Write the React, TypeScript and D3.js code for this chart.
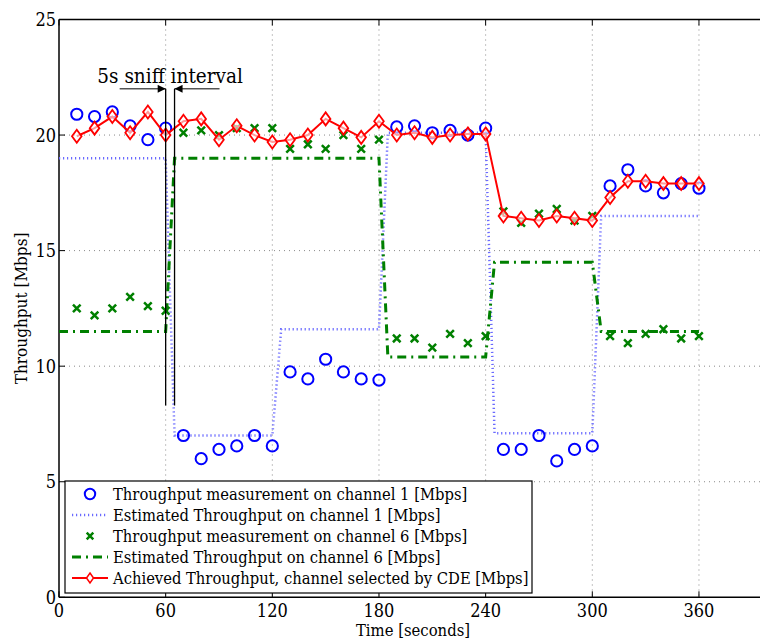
import React from "react";
import * as d3 from "d3";

const times = [10,20,30,40,50,60,70,80,90,100,110,120,130,140,150,160,170,180,190,200,210,220,230,240,250,260,270,280,290,300,310,320,330,340,350,360];
const ch1Meas = [20.9,20.8,21.0,20.4,19.8,20.3,7.0,6.0,6.4,6.55,7.0,6.55,9.75,9.45,10.3,9.75,9.45,9.4,20.35,20.4,20.1,20.2,20.0,20.3,6.4,6.4,7.0,5.9,6.4,6.55,17.8,18.5,17.8,17.5,17.9,17.7];
const ch6Meas = [12.5,12.2,12.5,13.0,12.6,12.4,20.1,20.2,20.0,20.3,20.3,20.3,19.4,19.6,19.4,20.0,19.4,19.8,11.2,11.2,10.8,11.4,11.0,11.3,16.7,16.2,16.6,16.8,16.3,16.5,11.3,11.0,11.4,11.6,11.2,11.3];
const achieved = [19.95,20.3,20.8,20.1,21.0,20.0,20.6,20.7,19.8,20.4,20.0,19.7,19.8,20.0,20.7,20.3,19.9,20.6,20.0,20.1,19.9,20.0,20.05,20.05,16.5,16.4,16.3,16.5,16.4,16.3,17.3,18.0,18.0,17.9,17.9,17.9];

const est1Times = [0,60,65,120,125,180,185,240,245,300,305,360];
const est1Values = [19,19,7,7,11.6,11.6,20.1,20.1,7.1,7.1,16.5,16.5];
const est6Times = [0,60,65,180,185,240,245,300,305,360];
const est6Values = [11.5,11.5,19,19,10.4,10.4,14.5,14.5,11.5,11.5];

const xTicks = [0,60,120,180,240,300,360];
const yTicks = [0,5,10,15,20,25];
const legendLabels = [
  "Throughput measurement on channel 1 [Mbps]",
  "Estimated Throughput on channel 1 [Mbps]",
  "Throughput measurement on channel 6 [Mbps]",
  "Estimated Throughput on channel 6 [Mbps]",
  "Achieved Throughput, channel selected by CDE [Mbps]",
];
const sniffStart = 60;
const sniffEnd = 65;

const FONT = "'DejaVu Serif Condensed', 'DejaVu Serif', serif";
const BLUE = "#0000ff";
const BLUE_EST = "#6a6aff";
const GREEN = "#008000";
const RED = "#ff0000";

export default function App() {
  const W = 760, H = 641;
  const left = 59, top = 19.5, bottom = 597.3;
  const x = d3.scaleLinear().domain([0, 400]).range([left, left + 400 * (533.3 / 300)]);
  const y = d3.scaleLinear().domain([0, 25]).range([bottom, top]);
  const right = x(400);

  const line = d3.line<[number, number]>().x(d => x(d[0])).y(d => y(d[1]));
  const est1 = line(est1Times.map((t, i) => [t, est1Values[i]]));
  const est6 = line(est6Times.map((t, i) => [t, est6Values[i]]));
  const ach = line(times.map((t, i) => [t, achieved[i]]));

  const diamond = (cx: number, cy: number) => `M${cx},${cy - 6.5}L${cx + 4.8},${cy}L${cx},${cy + 6.5}L${cx - 4.8},${cy}Z`;
  const cross = (cx: number, cy: number, s = 3.8) => `M${cx - s},${cy - s}L${cx + s},${cy + s}M${cx - s},${cy + s}L${cx + s},${cy - s}`;

  const lgX = 65, lgY = 481, lgW = 467, lgH = 112;
  const rowY = (i: number) => 494 + i * 21;

  const arrowY = y(22);
  const textY = y(22.25);

  return (
    <svg width={W} height={H} style={{ position: "absolute", left: 0, top: 0, background: "#fff" }} fontFamily={FONT}>
      <rect x={0} y={0} width={W} height={H} fill="#fff" />
      <defs>
        <clipPath id="plot">
          <rect x={left} y={top} width={right - left} height={bottom - top} />
        </clipPath>
        <marker id="arr" viewBox="0 0 10 10" refX="10" refY="5" markerWidth="11" markerHeight="8" markerUnits="userSpaceOnUse" orient="auto">
          <path d="M0,0L10,5L0,10Z" fill="#000" />
        </marker>
      </defs>
      {/* grid */}
      {xTicks.filter(t => t > 0).map(t => (
        <line key={"gx" + t} x1={x(t)} x2={x(t)} y1={top} y2={bottom} stroke="#888" strokeWidth={1} strokeDasharray="1,4" />
      ))}
      {yTicks.filter(t => t > 0 && t < 25).map(t => (
        <line key={"gy" + t} x1={left} x2={right} y1={y(t)} y2={y(t)} stroke="#888" strokeWidth={1} strokeDasharray="1,4" />
      ))}
      {/* axes frame */}
      <line x1={left} x2={right} y1={top} y2={top} stroke="#000" strokeWidth={1.5} />
      <line x1={left} x2={right} y1={bottom} y2={bottom} stroke="#000" strokeWidth={1.5} />
      <line x1={left} x2={left} y1={top} y2={bottom} stroke="#000" strokeWidth={1.5} />
      {xTicks.map(t => (
        <g key={"xt" + t}>
          <line x1={x(t)} x2={x(t)} y1={bottom} y2={bottom - 6} stroke="#000" strokeWidth={1} />
          <line x1={x(t)} x2={x(t)} y1={top} y2={top + 6} stroke="#000" strokeWidth={1} />
          <text x={x(t)} y={616.5} textAnchor="middle" fontSize={18}>{t}</text>
        </g>
      ))}
      {yTicks.map(t => (
        <g key={"yt" + t}>
          <line x1={left} x2={left + 6} y1={y(t)} y2={y(t)} stroke="#000" strokeWidth={1} />
          <text x={56} y={y(t) + 6.5} textAnchor="end" fontSize={18}>{t}</text>
        </g>
      ))}
      <text x={413} y={635.5} textAnchor="middle" fontSize={16.5}>Time [seconds]</text>
      <text transform={`translate(27,${(top + bottom) / 2}) rotate(-90)`} textAnchor="middle" fontSize={17}>Throughput [Mbps]</text>

      <g clipPath="url(#plot)">
        <path d={est1 || ""} fill="none" stroke={BLUE_EST} strokeWidth={2.5} strokeDasharray="1.2,2.8" />
        <path d={est6 || ""} fill="none" stroke={GREEN} strokeWidth={3} strokeDasharray="9,5,2,5" />
        {times.map((t, i) => (
          <path key={"c6" + i} d={cross(x(t), y(ch6Meas[i]))} stroke={GREEN} strokeWidth={2.5} fill="none" />
        ))}
        {times.map((t, i) => (
          <circle key={"c1" + i} cx={x(t)} cy={y(ch1Meas[i])} r={5.6} stroke={BLUE} strokeWidth={2} fill="none" />
        ))}
        <path d={ach || ""} fill="none" stroke={RED} strokeWidth={2} />
        {times.map((t, i) => (
          <path key={"a" + i} d={diamond(x(t), y(achieved[i]))} stroke={RED} strokeWidth={1.8} fill="#fff" fillOpacity={0.6} />
        ))}
        {/* sniff interval annotation */}
        <line x1={x(sniffStart)} x2={x(sniffStart)} y1={y(8.3)} y2={arrowY} stroke="#000" strokeWidth={1.3} />
        <line x1={x(sniffEnd)} x2={x(sniffEnd)} y1={y(8.3)} y2={arrowY} stroke="#000" strokeWidth={1.3} />
        <line x1={x(sniffStart) - 46} x2={x(sniffStart)} y1={arrowY} y2={arrowY} stroke="#000" strokeWidth={1} markerEnd="url(#arr)" />
        <line x1={x(sniffEnd) + 45} x2={x(sniffEnd)} y1={arrowY} y2={arrowY} stroke="#000" strokeWidth={1} markerEnd="url(#arr)" />
        <text x={(x(sniffStart) + x(sniffEnd)) / 2} y={textY} textAnchor="middle" fontSize={20.5}>5s sniff interval</text>
      </g>

      {/* legend */}
      <rect x={lgX} y={lgY} width={lgW} height={lgH} fill="#fff" stroke="#000" strokeWidth={1.2} />
      {legendLabels.map((lab, i) => {
        const cy = rowY(i);
        return (
          <g key={"lg" + i}>
            {i === 0 && <circle cx={90} cy={cy} r={5.2} stroke={BLUE} strokeWidth={2} fill="none" />}
            {i === 1 && <line x1={72} x2={108} y1={cy} y2={cy} stroke={BLUE_EST} strokeWidth={2.5} strokeDasharray="1.2,2.8" />}
            {i === 2 && <path d={cross(90, cy, 3.3)} stroke={GREEN} strokeWidth={2.5} fill="none" />}
            {i === 3 && <line x1={72} x2={108} y1={cy} y2={cy} stroke={GREEN} strokeWidth={3} strokeDasharray="9,5,2,5" />}
            {i === 4 && (
              <g>
                <line x1={72} x2={108} y1={cy} y2={cy} stroke={RED} strokeWidth={2} />
                <path d={`M90,${cy - 5}L93.5,${cy}L90,${cy + 5}L86.5,${cy}Z`} stroke={RED} strokeWidth={1.5} fill="#fff" />
              </g>
            )}
            <text x={113} y={cy + 5.8} fontSize={16.4}>{lab}</text>
          </g>
        );
      })}
    </svg>
  );
}
